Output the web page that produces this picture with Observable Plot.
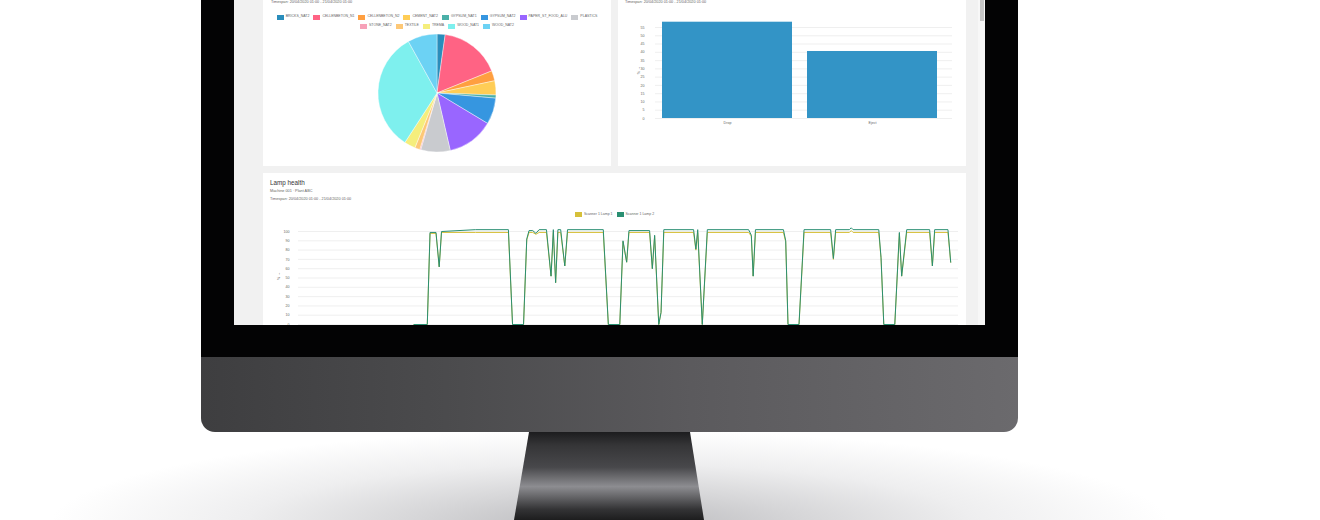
<!DOCTYPE html>
<html>
<head>
<meta charset="utf-8">
<script src="https://cdn.jsdelivr.net/npm/d3@7"></script>
<script src="https://cdn.jsdelivr.net/npm/@observablehq/plot@0.6"></script>
<style>
  html, body { margin: 0; padding: 0; width: 1320px; height: 520px; overflow: hidden; background: #fff; }
  body { font-family: "Liberation Sans", Arial, sans-serif; }
  #stage { position: relative; width: 1320px; height: 520px; overflow: hidden; }
  .floor { position: absolute; left: 0; top: 400px; width: 1320px; height: 120px;
    background: radial-gradient(ellipse 560px 95px at 610px 125px, #b8b8bb 0%, #d6d6d8 35%, #eeeeef 65%, #ffffff 100%); }
  .bezel { position: absolute; left: 201px; top: -30px; width: 817px; height: 388px; background: #030304; }
  .chin { position: absolute; left: 201px; top: 357px; width: 817px; height: 75px; border-radius: 0 0 14px 14px;
    background: linear-gradient(90deg, #3e3e40 0%, #4b4b4d 30%, #5b5a5d 60%, #6b6a6d 100%); }
  .stand { position: absolute; left: 514px; top: 432px; width: 190px; height: 88px;
    clip-path: polygon(15px 0, 176px 0, 190px 88px, 0 88px);
    background: linear-gradient(180deg, #1c1c1e 0%, #353537 15%, #48484b 40%, #8d8d91 62%, #6b6b6e 72%, #333335 88%, #1d1d1e 100%); }
  .screen { position: absolute; left: 234px; top: 0; width: 751px; height: 325px; background: #f1f1f1; overflow: hidden; }
  .panel { position: absolute; background: #fff; }
  .track { position: absolute; left: 744px; top: 0; width: 7px; height: 325px; background: #f7f7f7; }
  .thumb { position: absolute; left: 746px; top: 0; width: 4px; height: 21px; background: #c6c6c6; }
  .txt { position: absolute; white-space: nowrap; color: #666; font-size: 3.8px; line-height: 1; }
  .title { color: #333; font-size: 6.3px; font-weight: normal; }
  .legend { position: absolute; left: 0; width: 100%; display: flex; justify-content: center; align-items: center;
    gap: 4px; font-size: 3.5px; color: #666; line-height: 1; white-space: nowrap; }
  .legend span.item { display: inline-flex; align-items: center; gap: 2px; }
  .legend i { display: inline-block; width: 7px; height: 5px; }
  .plot { position: absolute; left: 0; }
</style>
</head>
<body>
<div id="stage">
  <div class="floor"></div>
  <div class="bezel"></div>
  <div class="chin"></div>
  <div class="stand"></div>
  <div class="screen">
    <div class="panel" id="pie-panel" style="left:29px; top:0; width:348px; height:166px;">
      <div class="txt" style="left:8px; top:1px;">Timespan: 20/04/2020 01:00 - 21/04/2020 01:00</div>
    </div>
    <div class="panel" id="bar-panel" style="left:384px; top:0; width:348px; height:166px;">
      <div class="txt" style="left:7px; top:1px;">Timespan: 20/04/2020 01:00 - 21/04/2020 01:00</div>
    </div>
    <div class="panel" id="lamp-panel" style="left:29px; top:173px; width:703px; height:200px;">
      <div class="txt title" style="left:7px; top:7px;">Lamp health</div>
      <div class="txt" style="left:7px; top:17px;">Machine 001 · Plant ABC</div>
      <div class="txt" style="left:7px; top:25px;">Timespan: 20/04/2020 01:00 - 21/04/2020 01:00</div>
    </div>
    <div class="track"></div>
    <div class="thumb"></div>
  </div>
</div>
<script>
// Waste fractions shown in the pie
const pieCategories = ["BRICKS_NAT2", "CELLENBETON_N1", "CELLENBETON_N2", "CEMENT_NAT2", "GYPSUM_NAT1", "GYPSUM_NAT2",
  "PAPER_ST_FOOD_ALU", "PLASTICS", "STONE_NAT2", "TEXTILE", "TREMA", "WOOD_NAT1", "WOOD_NAT2"];
const pieValues = [8, 60, 10, 14, 3, 26, 46, 29, 1, 5, 11, 118, 29];
const pieColors = ["#2a8dbb", "#ff6384", "#ff9f40", "#ffcd56", "#4bb0a8", "#3696e0", "#9966ff", "#c9cbcf",
  "#f7a1b8", "#fdc877", "#f5ee7c", "#7ef0ee", "#6cd2f4"];

// Ejector actions
const barCategories = ["Drop", "Eject"];
const barValues = [58.2, 40.5];
const barTicks = [0, 5, 10, 15, 20, 25, 30, 35, 40, 45, 50, 55];

// Lamp health readings
const lampTimes = [
  "20/04/2020 05:12", "20/04/2020 05:41", "20/04/2020 05:47", "20/04/2020 06:00", "20/04/2020 06:07", "20/04/2020 06:12",
  "20/04/2020 07:26", "20/04/2020 08:38", "20/04/2020 08:47", "20/04/2020 09:11", "20/04/2020 09:18", "20/04/2020 09:23",
  "20/04/2020 09:31", "20/04/2020 09:38", "20/04/2020 09:45", "20/04/2020 10:01", "20/04/2020 10:11", "20/04/2020 10:16",
  "20/04/2020 10:21", "20/04/2020 10:26", "20/04/2020 10:32", "20/04/2020 10:41", "20/04/2020 10:47", "20/04/2020 12:05",
  "20/04/2020 12:16", "20/04/2020 12:41", "20/04/2020 12:48", "20/04/2020 12:56", "20/04/2020 13:01", "20/04/2020 13:46",
  "20/04/2020 13:52", "20/04/2020 13:57", "20/04/2020 14:06", "20/04/2020 14:11", "20/04/2020 14:17", "20/04/2020 15:22",
  "20/04/2020 15:27", "20/04/2020 15:31", "20/04/2020 15:41", "20/04/2020 15:52", "20/04/2020 17:22", "20/04/2020 17:28",
  "20/04/2020 17:32", "20/04/2020 17:37", "20/04/2020 18:38", "20/04/2020 18:43", "20/04/2020 18:48", "20/04/2020 19:12",
  "20/04/2020 19:23", "20/04/2020 20:21", "20/04/2020 20:27", "20/04/2020 20:32", "20/04/2020 21:02", "20/04/2020 21:06",
  "20/04/2020 21:10", "20/04/2020 22:06", "20/04/2020 22:11", "20/04/2020 22:17", "20/04/2020 22:41", "20/04/2020 22:51",
  "20/04/2020 22:56", "20/04/2020 23:07", "20/04/2020 23:57", "21/04/2020 00:03", "21/04/2020 00:08", "21/04/2020 00:37",
  "21/04/2020 00:43"];
const lamp1Values = [0, 0, 98, 98, 62, 99, 99, 99, 0, 0, 91, 99, 99, 97, 99, 99, 52, 99, 45, 99, 99, 63, 99, 99,
  0, 0, 89, 67, 99, 99, 60, 95, 0, 13, 99, 99, 80, 99, 0, 99, 99, 95, 52, 99, 99, 89, 0, 0, 99, 99, 70, 99, 99, 101,
  99, 99, 71, 0, 0, 98, 52, 99, 99, 63, 99, 99, 67];
const lamp2Values = [0, 0, 99, 99, 62, 100, 102, 102, 0, 0, 92, 101, 101, 98, 102, 102, 52, 102, 45, 102, 102, 63, 102, 102,
  0, 0, 90, 67, 101, 101, 60, 96, 0, 13, 102, 102, 81, 102, 0, 102, 102, 96, 52, 102, 102, 90, 0, 0, 102, 102, 71, 102, 102, 104,
  102, 102, 72, 0, 0, 99, 52, 102, 102, 63, 102, 102, 67];
const lampSeries = ["Scanner 1 Lamp 1", "Scanner 1 Lamp 2"];
const lampColors = ["#d6c03a", "#2a8f72"];
const lampTicks = [0, 10, 20, 30, 40, 50, 60, 70, 80, 90, 100];
const timespan = ["20/04/2020 01:00", "21/04/2020 01:00"];

const font = "'Liberation Sans', Arial, sans-serif";
const parseTime = d3.timeParse("%d/%m/%Y %H:%M");

function legend(parent, top, names, colors) {
  const row = document.createElement("div");
  row.className = "legend";
  row.style.top = top + "px";
  names.forEach((n, i) => {
    const item = document.createElement("span");
    item.className = "item";
    const sw = document.createElement("i");
    sw.style.background = colors[i];
    item.appendChild(sw);
    item.appendChild(document.createTextNode(n));
    row.appendChild(item);
  });
  parent.appendChild(row);
}

// ---- Pie ----
const piePanel = document.getElementById("pie-panel");
legend(piePanel, 14.5, pieCategories.slice(0, 8), pieColors.slice(0, 8));
legend(piePanel, 23.5, pieCategories.slice(8), pieColors.slice(8));

const pieData = pieCategories.map((category, i) => ({category, value: pieValues[i]}));
const pieColor = d3.scaleOrdinal(pieCategories, pieColors);
const pie = Plot.plot({
  width: 348, height: 136,
  marginTop: 4, marginBottom: 14, marginLeft: 0, marginRight: 0,
  style: {background: "transparent"},
  marks: [
    (index, scales, values, dim) => {
      const r = (dim.height - dim.marginTop - dim.marginBottom) / 2;
      const cx = dim.marginLeft + (dim.width - dim.marginLeft - dim.marginRight) / 2;
      const cy = dim.marginTop + r;
      const arcs = d3.pie().sort(null).value(d => d.value)(pieData);
      const arc = d3.arc().innerRadius(0).outerRadius(r);
      const g = d3.create("svg:g").attr("transform", `translate(${cx},${cy})`);
      g.selectAll("path").data(arcs).join("path")
        .attr("d", arc)
        .attr("fill", d => pieColor(d.data.category))
        .attr("stroke", "#fff")
        .attr("stroke-width", 0.4);
      return g.node();
    }
  ]
});
pie.classList.add("plot");
pie.style.top = "30px";
piePanel.appendChild(pie);

// ---- Bars ----
const barPanel = document.getElementById("bar-panel");
const barData = barCategories.map((category, i) => ({category, value: barValues[i]}));
const bar = Plot.plot({
  width: 348, height: 125,
  marginLeft: 37, marginRight: 14, marginTop: 6.7, marginBottom: 22,
  style: {background: "transparent", fontSize: "3.6px", fontFamily: font, color: "#666"},
  x: {domain: barCategories, range: [37, 326], paddingInner: 0.1034, paddingOuter: 0.048,
      label: null, tickSize: 0, tickPadding: 3},
  y: {domain: [0, d3.max(barValues)], ticks: barTicks, grid: true, label: "%", labelAnchor: "center",
      labelOffset: 18, tickSize: 0, tickPadding: 11},
  marks: [
    Plot.barY(barData, {x: "category", y: "value", fill: "#3394c6"})
  ]
});
bar.classList.add("plot");
bar.style.top = "15px";
barPanel.appendChild(bar);

// ---- Lamp health lines ----
const lampPanel = document.getElementById("lamp-panel");
legend(lampPanel, 39, lampSeries, lampColors);
const lampRows = [];
lampTimes.forEach((t, i) => {
  lampRows.push({time: parseTime(t), value: lamp1Values[i], series: lampSeries[0]});
});
lampTimes.forEach((t, i) => {
  lampRows.push({time: parseTime(t), value: lamp2Values[i], series: lampSeries[1]});
});
const lamp = Plot.plot({
  width: 703, height: 115,
  marginLeft: 35, marginRight: 8, marginTop: 7.3, marginBottom: 11,
  style: {background: "transparent", fontSize: "3.6px", fontFamily: font, color: "#666"},
  x: {type: "time", domain: timespan.map(parseTime), axis: null},
  y: {domain: [0, d3.max(lamp2Values)], ticks: lampTicks, grid: true, label: "%", labelAnchor: "center",
      labelOffset: 21, tickSize: 0, tickPadding: 9},
  color: {domain: lampSeries, range: lampColors},
  marks: [
    Plot.line(lampRows, {x: "time", y: "value", z: "series", stroke: "series", strokeWidth: 1})
  ]
});
lamp.classList.add("plot");
lamp.style.top = "47px";
lampPanel.appendChild(lamp);
</script>
</body>
</html>
